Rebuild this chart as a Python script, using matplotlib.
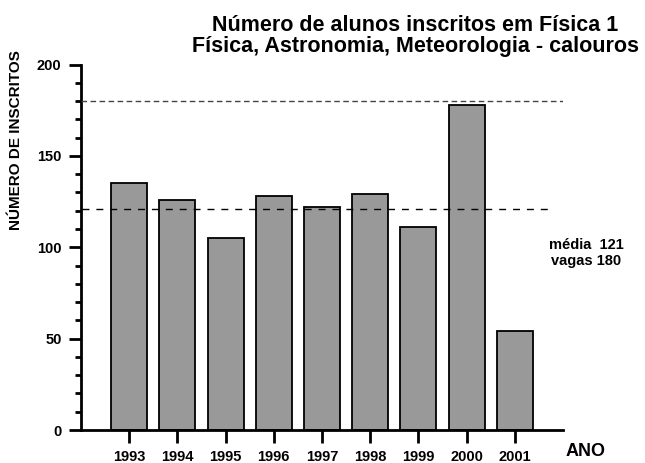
import matplotlib
matplotlib.use("Agg")
import matplotlib.pyplot as plt
from matplotlib.ticker import MultipleLocator

plt.rcParams['font.family'] = ['Liberation Sans', 'DejaVu Sans']
plt.rcParams['font.weight'] = 'bold'

years = [1993, 1994, 1995, 1996, 1997, 1998, 1999, 2000, 2001]
inscritos = [135, 126, 105, 128, 122, 129, 111, 178, 54]
media = 121
vagas = 180
title = "Número de alunos inscritos em Física 1\nFísica, Astronomia, Meteorologia - calouros"

fig = plt.figure(figsize=(6.45, 4.63), dpi=100)
W, H = 645, 463
ax = fig.add_axes([81 / W, (H - 430) / H, (563 - 81) / W, (430 - 64.5) / H])

ax.bar(years, inscritos, width=0.75, color='#999999', edgecolor='black', linewidth=1.3, zorder=2)
ax.axhline(vagas, color='#444444', linestyle=(0, (4, 2.5)), linewidth=1.0, zorder=3)
ax.plot([1992.02, 2001.75], [media, media], color='black', linestyle=(0, (5, 5)), linewidth=1.0, zorder=3)

ax.set_xlim(1992, 2002)
ax.set_ylim(0, 200)
ax.set_xticks(years)
ax.set_xticklabels([str(y) for y in years], fontsize=10.5, fontweight='bold')
ax.yaxis.set_major_locator(MultipleLocator(50))
ax.yaxis.set_minor_locator(MultipleLocator(10))
ax.tick_params(axis='y', which='major', length=9, width=2, labelsize=10.5, pad=5)
ax.tick_params(axis='y', which='minor', length=4.5, width=2)
ax.tick_params(axis='x', which='major', length=9, width=2, pad=5.5)
for lab in ax.get_yticklabels():
    lab.set_fontweight('bold')

for s in ['top', 'right']:
    ax.spines[s].set_visible(False)
for s in ['left', 'bottom']:
    ax.spines[s].set_linewidth(2)

fig.text(16 / W, 1 - 140 / H, "NÚMERO DE INSCRITOS", rotation=90, ha='center', va='center',
         fontsize=11, fontweight='bold')
fig.text(586 / W, 1 - 452 / H, "ANO", ha='center', va='center', fontsize=13, fontweight='bold')
fig.text(415 / W, 1 - 36 / H, title, ha='center', va='center', fontsize=15.5, fontweight='bold',
         linespacing=1.0)
fig.text(586 / W, 1 - 253 / H, f"média  {media}\nvagas {vagas}", ha='center', va='center',
         fontsize=10.5, fontweight='bold', linespacing=1.15)

fig.savefig("out.png", dpi=100)
